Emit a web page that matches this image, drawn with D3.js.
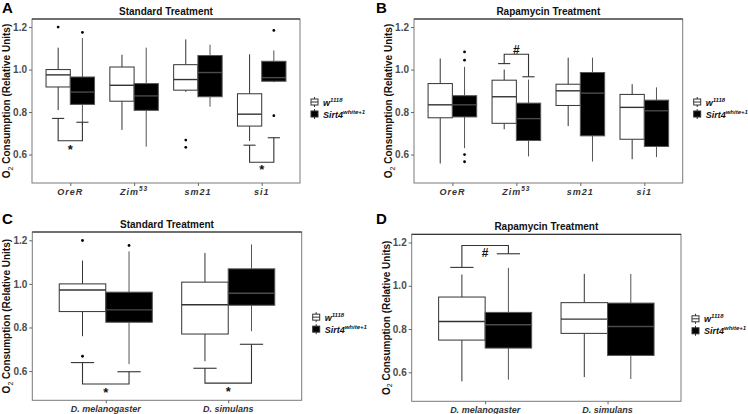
<!DOCTYPE html>
<html>
<head>
<meta charset="utf-8">
<script src="https://cdn.jsdelivr.net/npm/d3@7"></script>
<style>
  html, body { margin: 0; padding: 0; background: #fff; }
  svg { display: block; font-family: "Liberation Sans", Arial, sans-serif; }
</style>
</head>
<body>
<svg id="chart" width="748" height="414"></svg>
<script>
// ---------- data ----------
const yTicks = [0.6, 0.8, 1.0, 1.2];
const genotypes = ["w", "Sirt4"];
const genotypeSup = ["1118", "white+1"];

const strainMain = ["OreR", "Zim", "sm21", "si1"];
const strainSup = ["", "53", "", ""];
const speciesMain = ["D. melanogaster", "D. simulans"];
const speciesSup = ["", ""];

// [lower whisker, Q1, median, Q3, upper whisker]
const A_w1118 = [
  [0.809, 0.918, 0.975, 1.000, 1.103],
  [0.716, 0.851, 0.926, 1.012, 1.070],
  [0.895, 0.903, 0.953, 1.023, 1.142],
  [0.664, 0.734, 0.790, 0.886, 1.072]
];
const A_w1118_out = [[1.200], [], [0.668, 0.634], []];
const A_sirt4 = [
  [0.737, 0.836, 0.894, 0.965, 1.148],
  [0.637, 0.808, 0.876, 0.934, 1.103],
  [0.825, 0.872, 0.986, 1.066, 1.117],
  [0.940, 0.945, 0.962, 1.039, 1.090]
];
const A_sirt4_out = [[1.175], [], [], [1.184, 0.783]];

const B_w1118 = [
  [0.558, 0.773, 0.834, 0.934, 1.052],
  [0.719, 0.747, 0.872, 0.950, 1.000],
  [0.734, 0.831, 0.900, 0.931, 1.056],
  [0.578, 0.672, 0.822, 0.883, 0.931]
];
const B_w1118_out = [[], [], [], []];
const B_sirt4 = [
  [0.630, 0.777, 0.834, 0.877, 1.013],
  [0.591, 0.666, 0.769, 0.842, 0.953],
  [0.567, 0.688, 0.889, 0.986, 1.056],
  [0.588, 0.638, 0.806, 0.856, 0.916]
];
const B_sirt4_out = [[1.083, 1.044, 0.600, 0.566], [], [], []];

const C_w1118 = [
  [0.760, 0.873, 0.972, 1.000, 1.107],
  [0.645, 0.770, 0.904, 1.008, 1.142]
];
const C_w1118_out = [[1.199, 0.668], []];
const C_sirt4 = [
  [0.632, 0.824, 0.881, 0.962, 1.149],
  [0.783, 0.902, 0.957, 1.069, 1.181]
];
const C_sirt4_out = [[1.176], []];

const D_w1118 = [
  [0.558, 0.749, 0.835, 0.948, 1.052],
  [0.578, 0.780, 0.846, 0.922, 1.055]
];
const D_w1118_out = [[], []];
const D_sirt4 = [
  [0.566, 0.712, 0.820, 0.877, 1.083],
  [0.569, 0.678, 0.812, 0.920, 1.055]
];
const D_sirt4_out = [[], []];

// significance brackets: cap heights (w1118, Sirt4), join height, label and its height
const A_sig = [
  { cat: 0, capW: 0.770, capS: 0.752, join: 0.665, label: "*", labelY: 0.637 },
  { cat: 3, capW: 0.644, capS: 0.679, join: 0.564, label: "*", labelY: 0.539 }
];
const B_sig = [
  { cat: 1, capW: 1.028, capS: 0.966, join: 1.072, label: "#", labelY: 1.094 }
];
const C_sig = [
  { cat: 0, capW: 0.639, capS: 0.597, join: 0.541, label: "*", labelY: 0.513 },
  { cat: 1, capW: 0.613, capS: 0.723, join: 0.545, label: "*", labelY: 0.518 }
];
const D_sig = [
  { cat: 0, capW: 1.085, capS: 1.148, join: 1.186, label: "#", labelY: 1.155 }
];

// ---------- drawing ----------
const svg = d3.select("#chart");
const yDomain = [0.466, 1.238];

function drawPanel(p) {
  const g = svg.append("g");
  const n = p.main.length;
  const x = d3.scaleLinear().domain([0.4, n + 0.6]).range([p.L, p.R]);
  const y = d3.scaleLinear().domain(yDomain).range([p.B, p.T]);
  const unit = x(2) - x(1);
  const bw = 0.38;
  const off = [-bw / 2, bw / 2];

  // panel frame
  g.append("rect").attr("x", p.L).attr("y", p.T).attr("width", p.R - p.L).attr("height", p.B - p.T)
    .attr("fill", "none").attr("stroke", "#7a7a7a").attr("stroke-width", 1);
  g.append("line").attr("x1", p.L).attr("x2", p.R).attr("y1", p.T).attr("y2", p.T)
    .attr("stroke", "#222").attr("stroke-width", 1);

  // y axis
  const yAxis = d3.axisLeft(y).tickValues(yTicks).tickFormat(d3.format(".1f")).tickSize(3).tickPadding(2);
  const ya = g.append("g").attr("transform", `translate(${p.L},0)`).call(yAxis);
  ya.select(".domain").remove();
  ya.selectAll(".tick line").attr("stroke", "#666");
  ya.selectAll(".tick text").attr("fill", "#4d4d4d").attr("font-size", 10).attr("font-weight", "bold");

  // x axis
  const xAxis = d3.axisBottom(x).tickValues(d3.range(1, n + 1)).tickFormat("").tickSize(3);
  const xa = g.append("g").attr("transform", `translate(0,${p.B})`).call(xAxis);
  xa.select(".domain").remove();
  xa.selectAll(".tick line").attr("stroke", "#666");
  p.main.forEach((m, i) => {
    const t = g.append("text").attr("x", x(i + 1)).attr("y", p.B + 11.5)
      .attr("text-anchor", "middle").attr("font-size", 9).attr("font-weight", "bold")
      .attr("font-style", "italic").attr("fill", "#333")
      .attr("letter-spacing", p.spacing);
    t.append("tspan").text(m);
    if (p.sup[i]) t.append("tspan").attr("font-size", 6.5).attr("dy", -4).text(p.sup[i]);
  });

  // title
  g.append("text").attr("x", (p.L + p.R) / 2).attr("y", p.T - 4).attr("text-anchor", "middle")
    .attr("font-size", 10).attr("font-weight", "bold").attr("fill", "#111").text(p.title);
  // panel letter
  g.append("text").attr("x", p.letterX).attr("y", p.letterY).attr("font-size", 15)
    .attr("font-weight", "bold").attr("fill", "#000").text(p.letter);
  // y axis title
  const yt = g.append("text")
    .attr("transform", `translate(${p.L - 22},${(p.T + p.B) / 2}) rotate(-90)`)
    .attr("text-anchor", "middle").attr("font-size", 10).attr("font-weight", "bold").attr("fill", "#111");
  yt.append("tspan").text("O");
  yt.append("tspan").attr("font-size", 7).attr("dy", 2.5).attr("font-weight", "normal").text("2");
  yt.append("tspan").attr("dy", -2.5).text(" Consumption (Relative Units)");

  // boxes
  const groups = [
    { stats: p.w, out: p.wOut, fill: "#fff", stroke: "#333", med: "#333" },
    { stats: p.s, out: p.sOut, fill: "#000", stroke: "#555", med: "#4a4a4a" }
  ];
  groups.forEach((grp, gi) => {
    grp.stats.forEach((st, i) => {
      const cx = x(i + 1 + off[gi]);
      const x0 = x(i + 1 + off[gi] - bw / 2), x1 = x(i + 1 + off[gi] + bw / 2);
      const [lo, q1, md, q3, hi] = st;
      g.append("line").attr("x1", cx).attr("x2", cx).attr("y1", y(hi)).attr("y2", y(q3))
        .attr("stroke", grp.stroke).attr("stroke-width", 1);
      g.append("line").attr("x1", cx).attr("x2", cx).attr("y1", y(q1)).attr("y2", y(lo))
        .attr("stroke", grp.stroke).attr("stroke-width", 1);
      g.append("rect").attr("x", x0).attr("y", y(q3)).attr("width", x1 - x0).attr("height", y(q1) - y(q3))
        .attr("fill", grp.fill).attr("stroke", grp.stroke).attr("stroke-width", 1);
      g.append("line").attr("x1", x0).attr("x2", x1).attr("y1", y(md)).attr("y2", y(md))
        .attr("stroke", grp.med).attr("stroke-width", 1.4);
      grp.out[i].forEach(v => {
        g.append("circle").attr("cx", cx).attr("cy", y(v)).attr("r", 1.4).attr("fill", "#000");
      });
    });
  });

  // significance brackets
  const capHalf = 0.095;
  p.sig.forEach(s => {
    const xw = x(s.cat + 1 + off[0]), xs = x(s.cat + 1 + off[1]);
    const col = "#333";
    const path = d3.path();
    path.moveTo(xw, y(s.capW)); path.lineTo(xw, y(s.join)); path.lineTo(xs, y(s.join)); path.lineTo(xs, y(s.capS));
    g.append("path").attr("d", path.toString()).attr("fill", "none").attr("stroke", col).attr("stroke-width", 1.1);
    [[xw, s.capW], [xs, s.capS]].forEach(([cx, v]) => {
      g.append("line").attr("x1", cx - capHalf * unit).attr("x2", cx + capHalf * unit)
        .attr("y1", y(v)).attr("y2", y(v)).attr("stroke", col).attr("stroke-width", 1.1);
    });
    const isStar = s.label === "*";
    g.append("text").attr("x", (xw + xs) / 2).attr("y", y(s.labelY) + (isStar ? 7 : 4.5))
      .attr("text-anchor", "middle").attr("font-size", isStar ? 13 : 12).attr("font-weight", "bold")
      .attr("fill", "#111").text(s.label);
  });

  // legend
  const lx = p.R + 11, ly = (p.T + p.B) / 2 + 1;
  [0, 1].forEach(k => {
    const cy = ly + k * 12;
    const fill = k === 0 ? "#fff" : "#000";
    const stroke = "#333";
    g.append("line").attr("x1", lx + 3.5).attr("x2", lx + 3.5).attr("y1", cy - 5).attr("y2", cy + 5)
      .attr("stroke", stroke).attr("stroke-width", 1);
    g.append("rect").attr("x", lx).attr("y", cy - 3).attr("width", 7).attr("height", 6)
      .attr("fill", fill).attr("stroke", stroke).attr("stroke-width", 1);
    if (k === 0) g.append("line").attr("x1", lx).attr("x2", lx + 7).attr("y1", cy).attr("y2", cy)
      .attr("stroke", "#333").attr("stroke-width", 1);
    const t = g.append("text").attr("x", lx + 12).attr("y", cy + 3.5).attr("font-size", 9)
      .attr("font-weight", "bold").attr("font-style", "italic").attr("fill", "#111");
    t.append("tspan").text(genotypes[k]);
    t.append("tspan").attr("font-size", 6).attr("dy", -4).text(genotypeSup[k]);
  });
}

drawPanel({ L: 32, R: 300, T: 19, B: 183, main: strainMain, sup: strainSup, spacing: 1,
  title: "Standard Treatment", letter: "A", letterX: 2, letterY: 13,
  w: A_w1118, wOut: A_w1118_out, s: A_sirt4, sOut: A_sirt4_out, sig: A_sig });
drawPanel({ L: 414, R: 682.7, T: 19, B: 183, main: strainMain, sup: strainSup, spacing: 1,
  title: "Rapamycin Treatment", letter: "B", letterX: 376, letterY: 13,
  w: B_w1118, wOut: B_w1118_out, s: B_sirt4, sOut: B_sirt4_out, sig: B_sig });
drawPanel({ L: 32.3, R: 301.7, T: 232, B: 400.3, main: speciesMain, sup: speciesSup, spacing: 0,
  title: "Standard Treatment", letter: "C", letterX: 2, letterY: 224,
  w: C_w1118, wOut: C_w1118_out, s: C_sirt4, sOut: C_sirt4_out, sig: C_sig });
drawPanel({ L: 411.7, R: 681, T: 234.3, B: 401.3, main: speciesMain, sup: speciesSup, spacing: 0,
  title: "Rapamycin Treatment", letter: "D", letterX: 376, letterY: 224,
  w: D_w1118, wOut: D_w1118_out, s: D_sirt4, sOut: D_sirt4_out, sig: D_sig });
</script>
</body>
</html>
